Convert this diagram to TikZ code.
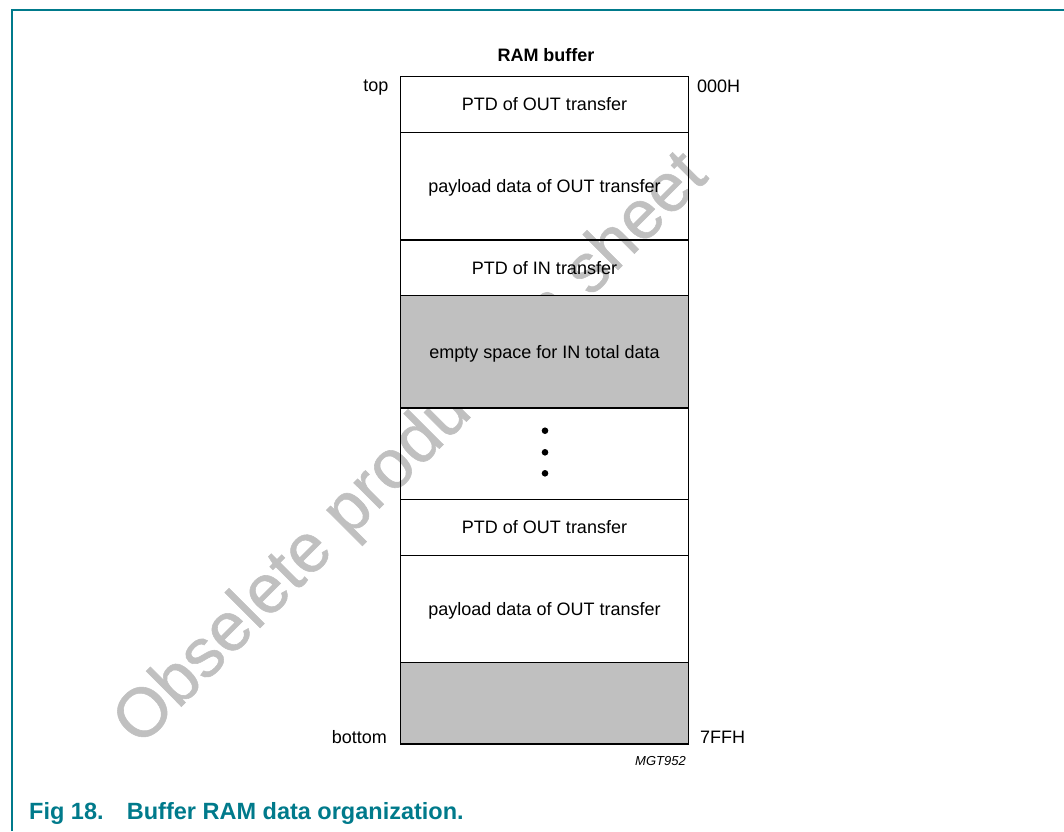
\documentclass[tikz,border=0pt]{standalone}
\usepackage{fontspec}
\setmainfont{Liberation Sans}
\newfontfamily\wmfont{Liberation Sans}[FakeBold=0.8]
\definecolor{nxpteal}{RGB}{0,122,139}
\definecolor{cellgray}{RGB}{192,192,192}
\tikzset{
  cell/.style={draw=black, line width=1.4pt, minimum width=287.6pt, inner sep=0pt, outer sep=0pt,
    text height=12.9pt, text depth=0pt, font=\fontsize{18}{20}\selectfont},
  grayfill/.style={fill=cellgray},
  lbl/.style={inner sep=0pt, font=\fontsize{18}{20}\selectfont},
  frameline/.style={draw=nxpteal, line width=2pt},
  dotmark/.style={circle, fill=black, inner sep=0pt, minimum size=6.6pt}
}
\begin{document}
\begin{tikzpicture}[x=1pt, y=-1pt]
\useasboundingbox (0,0) rectangle (1064,831);
% frame
\draw[frameline] (12.3,831) -- (12.3,9.5) -- (1064,9.5);
% watermark
\node[inner sep=0pt, anchor=base, rotate=45, text=cellgray, font=\wmfont\fontsize{69}{70}\selectfont] (wm) at (425,463) {Obselete production sheet};
% title
\node[lbl, anchor=base, font=\fontsize{18}{20}\selectfont\bfseries] (title) at (546,61) {RAM buffer};
% cells
\node[cell, minimum height=55.6pt] (c1) at (544.5,104.5) {PTD of OUT transfer};
\node[cell, minimum height=107.7pt] (c2) at (544.5,186.15) {payload data of OUT transfer};
\node[cell, minimum height=55.7pt] (c3) at (544.5,267.85) {PTD of IN transfer};
\node[cell, grayfill, minimum height=112.3pt] (c4) at (544.5,351.85) {empty space for IN total data};
\node[cell, minimum height=91.3pt] (c5) at (544.5,453.65) {};
\node[cell, minimum height=56.4pt] (c6) at (544.5,527.5) {PTD of OUT transfer};
\node[cell, minimum height=106.6pt] (c7) at (544.5,609) {payload data of OUT transfer};
\node[cell, grayfill, minimum height=81.7pt] (c8) at (544.5,703.15) {};
% dots
\node[dotmark] (d1) at (545,430.7) {};
\node[dotmark] (d2) at (545,452.3) {};
\node[dotmark] (d3) at (545,473.3) {};
% side labels
\node[lbl, anchor=base east] (top) at (388.5,91) {top};
\node[lbl, anchor=base west] (addr0) at (697,92) {000H};
\node[lbl, anchor=base east] (bottom) at (387,743) {bottom};
\node[lbl, anchor=base west] (addrE) at (700,743) {7FFH};
\node[lbl, anchor=base east, font=\fontsize{13}{15}\selectfont\itshape] (code) at (686,765.7) {MGT952};
% caption
\node[inner sep=0pt, anchor=base west, text=nxpteal, font=\fontsize{23.5}{25}\selectfont\bfseries] (cap) at (29,819.3) {\makebox[97.7pt][l]{Fig 18.}Buffer RAM data organization.};
\end{tikzpicture}
\end{document}
